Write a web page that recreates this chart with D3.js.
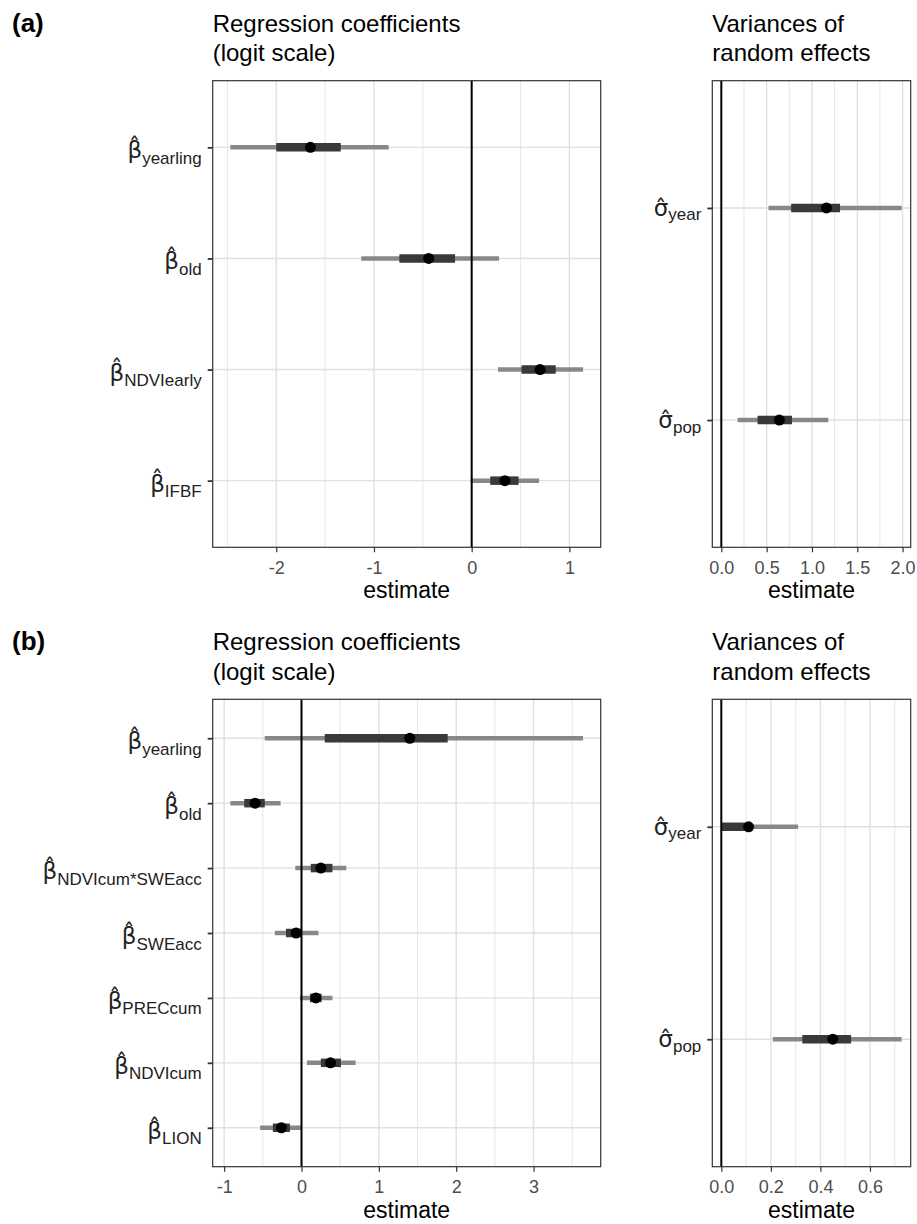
<!DOCTYPE html>
<html>
<head>
<meta charset="utf-8">
<script src="https://cdn.jsdelivr.net/npm/d3@7"></script>
<style>
  body { margin: 0; background: #fff; }
  text { font-family: "Liberation Sans", Arial, Helvetica, sans-serif; }
</style>
</head>
<body>
<div id="chart"></div>
<script>
// ---- (a) regression coefficients ----
const termsA = ["yearling", "old", "NDVIearly", "IFBF"];
const medianA = [-1.65, -0.44, 0.70, 0.34];
const innerA = [[-2.00, -1.34], [-0.74, -0.17], [0.51, 0.86], [0.19, 0.48]];
const outerA = [[-2.47, -0.85], [-1.13, 0.28], [0.27, 1.14], [-0.01, 0.69]];
const ticksA = [-2, -1, 0, 1];

// ---- (a) random effects ----
const reTermsA = ["year", "pop"];
const reMedianA = [1.16, 0.64];
const reInnerA = [[0.77, 1.31], [0.40, 0.78]];
const reOuterA = [[0.52, 1.99], [0.18, 1.18]];
const reTicksA = [0, 0.5, 1, 1.5, 2];

// ---- (b) regression coefficients ----
const termsB = ["yearling", "old", "NDVIcum*SWEacc", "SWEacc", "PRECcum", "NDVIcum", "LION"];
const medianB = [1.40, -0.60, 0.25, -0.07, 0.185, 0.375, -0.26];
const innerB = [[0.30, 1.89], [-0.74, -0.475], [0.12, 0.40], [-0.20, 0.0], [0.11, 0.26], [0.25, 0.51], [-0.37, -0.15]];
const outerB = [[-0.475, 3.64], [-0.92, -0.27], [-0.08, 0.58], [-0.345, 0.22], [-0.02, 0.40], [0.07, 0.70], [-0.535, 0.0]];
const ticksB = [-1, 0, 1, 2, 3];

// ---- (b) random effects ----
const reTermsB = ["year", "pop"];
const reMedianB = [0.11, 0.45];
const reInnerB = [[0.0, 0.105], [0.327, 0.524]];
const reOuterB = [[0.0, 0.31], [0.208, 0.728]];
const reTicksB = [0, 0.2, 0.4, 0.6];

const svg = d3.select("#chart").append("svg")
    .attr("width", 917)
    .attr("height", 1224)
    .style("display", "block");

svg.append("rect").attr("width", 917).attr("height", 1224).attr("fill", "#fff");

// one forest panel (ggplot theme_bw look)
function drawPanel(o) {
    const g = svg.append("g");
    const lo = d3.min([0, ...o.outer.map(d => d[0])]);
    const hi = d3.max([0, ...o.outer.map(d => d[1])]);
    const pad = (hi - lo) * 0.05;

    const x = d3.scaleLinear().domain([lo - pad, hi + pad]).range([o.x0, o.x1]);
    const y = d3.scalePoint().domain(o.terms).range([o.y0, o.y1]).padding(0.6);

    // minor breaks halfway between majors
    const step = o.ticks[1] - o.ticks[0];
    const minors = d3.range(o.ticks[0] - step / 2, o.ticks[o.ticks.length - 1] + step, step)
        .filter(v => v >= x.domain()[0] && v <= x.domain()[1]);

    g.selectAll(".minor").data(minors).enter().append("line")
        .attr("x1", d => x(d)).attr("x2", d => x(d))
        .attr("y1", o.y0).attr("y2", o.y1)
        .attr("stroke", "#e8e8e8").attr("stroke-width", 1.1);

    g.selectAll(".major").data(o.ticks).enter().append("line")
        .attr("x1", d => x(d)).attr("x2", d => x(d))
        .attr("y1", o.y0).attr("y2", o.y1)
        .attr("stroke", "#e0e0e0").attr("stroke-width", 1.4);

    g.selectAll(".hgrid").data(o.terms).enter().append("line")
        .attr("x1", o.x0).attr("x2", o.x1)
        .attr("y1", d => y(d)).attr("y2", d => y(d))
        .attr("stroke", "#e0e0e0").attr("stroke-width", 1.4);

    // intervals
    g.selectAll(".outer").data(o.terms).enter().append("line")
        .attr("x1", (d, i) => x(o.outer[i][0])).attr("x2", (d, i) => x(o.outer[i][1]))
        .attr("y1", d => y(d)).attr("y2", d => y(d))
        .attr("stroke", "#888").attr("stroke-width", 4.5);

    g.selectAll(".inner").data(o.terms).enter().append("line")
        .attr("x1", (d, i) => x(o.inner[i][0])).attr("x2", (d, i) => x(o.inner[i][1]))
        .attr("y1", d => y(d)).attr("y2", d => y(d))
        .attr("stroke", "#393939").attr("stroke-width", 8.5);

    // zero reference
    g.append("line")
        .attr("x1", x(0)).attr("x2", x(0))
        .attr("y1", o.y0).attr("y2", o.y1)
        .attr("stroke", "#000").attr("stroke-width", 2);

    g.selectAll(".pt").data(o.terms).enter().append("circle")
        .attr("cx", (d, i) => x(o.median[i]))
        .attr("cy", d => y(d))
        .attr("r", 5.5)
        .attr("fill", "#000");

    // panel border
    g.append("rect")
        .attr("x", o.x0).attr("y", o.y0)
        .attr("width", o.x1 - o.x0).attr("height", o.y1 - o.y0)
        .attr("fill", "none").attr("stroke", "#333").attr("stroke-width", 1.2);

    // x axis
    const xAxis = g.append("g")
        .attr("transform", `translate(0,${o.y1})`)
        .call(d3.axisBottom(x).tickValues(o.ticks).tickFormat(o.fmt).tickSize(5).tickPadding(9));
    xAxis.select(".domain").remove();
    xAxis.selectAll("line").attr("stroke", "#333").attr("stroke-width", 1.2);
    xAxis.selectAll("text")
        .attr("fill", "#4d4d4d")
        .style("font-size", "18px")
        .style("font-family", "'Liberation Sans', Arial, sans-serif");

    // y axis ticks
    const yAxis = g.append("g")
        .attr("transform", `translate(${o.x0},0)`)
        .call(d3.axisLeft(y).tickSize(5).tickFormat(""));
    yAxis.select(".domain").remove();
    yAxis.selectAll("line").attr("stroke", "#333").attr("stroke-width", 1.8);

    // y labels: symbol with combining hat and subscript
    o.terms.forEach(term => {
        const yc = y(term);
        const t = g.append("text")
            .attr("x", o.x0 - 11)
            .attr("y", yc + o.symShift)
            .attr("text-anchor", "end")
            .attr("fill", "#222");
        t.append("tspan")
            .style("font-family", "'DejaVu Sans', sans-serif")
            .style("font-size", "23px")
            .text(o.sym + "\u0302");
        t.append("tspan").attr("dy", o.subShift).style("font-size", "17px").text(term);
    });

    // axis title
    g.append("text")
        .attr("x", (o.x0 + o.x1) / 2)
        .attr("y", o.y1 + 51)
        .attr("text-anchor", "middle")
        .style("font-size", "23px")
        .text("estimate");

    // panel title (two lines)
    o.title.forEach((line, i) => {
        g.append("text")
            .attr("x", o.x0)
            .attr("y", o.y0 - 49 + i * 29.5)
            .style("font-size", "24px")
            .text(line);
    });
}

const fmtInt = d => String(d);
const fmt1 = d => d.toFixed(1);

const rows = [
    {tag: "(a)", y0: 80.7, y1: 547.3,
     left: {terms: termsA, median: medianA, inner: innerA, outer: outerA, ticks: ticksA},
     right: {terms: reTermsA, median: reMedianA, inner: reInnerA, outer: reOuterA, ticks: reTicksA}},
    {tag: "(b)", y0: 699.3, y1: 1166.7,
     left: {terms: termsB, median: medianB, inner: innerB, outer: outerB, ticks: ticksB},
     right: {terms: reTermsB, median: reMedianB, inner: reInnerB, outer: reOuterB, ticks: reTicksB}}
];

rows.forEach(r => {
    drawPanel(Object.assign({}, r.left, {
        x0: 212.7, x1: 600.7, y0: r.y0, y1: r.y1, fmt: fmtInt,
        sym: "\u03B2", symShift: 11, subShift: 5.5,
        title: ["Regression coefficients", "(logit scale)"]
    }));
    drawPanel(Object.assign({}, r.right, {
        x0: 712.3, x1: 910.7, y0: r.y0, y1: r.y1, fmt: fmt1,
        sym: "\u03C3", symShift: 8, subShift: 4.5,
        title: ["Variances of", "random effects"]
    }));
    svg.append("text")
        .attr("x", 12)
        .attr("y", r.y0 - 49)
        .style("font-size", "26px")
        .style("font-weight", "bold")
        .text(r.tag);
});
</script>
</body>
</html>
